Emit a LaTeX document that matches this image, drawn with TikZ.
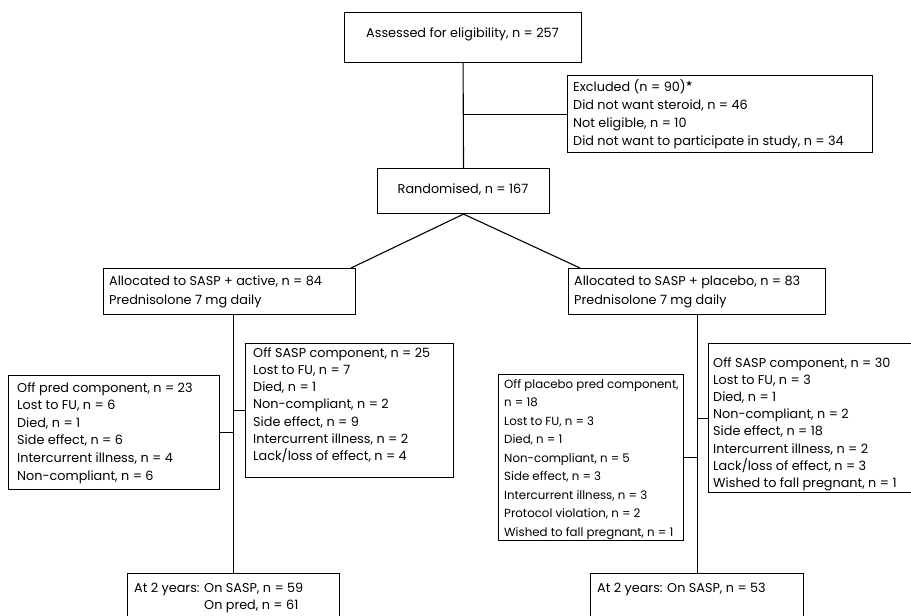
\documentclass[tikz,border=0pt]{standalone}
\usepackage{fontspec}
\setmainfont{Poppins}
\newfontfamily\symfont{DejaVu Sans}
\usetikzlibrary{calc}
\newcommand{\fsz}{12.8}
\newcommand{\txtlines}[2]{{\fontsize{\fsz}{#1}\selectfont\begin{tabular}[t]{@{}l@{}}#2\end{tabular}}}
\newcommand{\txtlinessm}[2]{{\fontsize{11.8}{#1}\selectfont\begin{tabular}[t]{@{}l@{}}#2\end{tabular}}}
\begin{document}
\begin{tikzpicture}[x=1pt,y=-1pt,
  box/.style={draw, line width=1.1pt, anchor=north west, inner sep=0pt},
  txt/.style={anchor=base west, inner sep=0pt},
  ctxt/.style={anchor=base, inner sep=0pt, font=\fontsize{\fsz}{17}\selectfont},
  conn/.style={line width=1.1pt}]
\clip (0,0) rectangle (911,616);
% boxes
\node[box, minimum width=237pt, minimum height=50pt] (top) at (344,12) {};
\node[box, minimum width=305pt, minimum height=77pt] (excl) at (567,75) {};
\node[box, minimum width=172pt, minimum height=45pt] (rand) at (377,168) {};
\node[box, minimum width=252pt, minimum height=46pt] (allocL) at (103,268) {};
\node[box, minimum width=257pt, minimum height=46pt] (allocR) at (568,268) {};
\node[box, minimum width=211pt, minimum height=114pt] (offpredL) at (8,375) {};
\node[box, minimum width=208pt, minimum height=134pt] (offsaspL) at (245,343) {};
\node[box, minimum width=185pt, minimum height=166pt] (offplac) at (498,374) {};
\node[box, minimum width=250pt, minimum height=149pt] (offsaspR) at (708,343) {};
\node[box, minimum width=212pt, minimum height=80pt] (botL) at (127,573) {};
\node[box, minimum width=213pt, minimum height=80pt] (botR) at (590,573) {};
% texts
\node[ctxt] (ttop) at (462.5,37) {Assessed for eligibility, n = 257};
\node[txt] (texcl) at (573,91) {\txtlines{18}{Excluded (n = 90)\textsuperscript{\symfont\footnotesize ★}\\Did not want steroid, n = 46\\Not eligible, n = 10\\Did not want to participate in study, n = 34}};
\node[ctxt] (trand) at (463,193) {Randomised, n = 167};
\node[txt] (tallocL) at (109,285) {\txtlines{19.7}{Allocated to SASP + active, n = 84\\Prednisolone 7 mg daily}};
\node[txt] (tallocR) at (574,285) {\txtlines{19.7}{Allocated to SASP + placebo, n = 83\\Prednisolone 7 mg daily}};
\node[txt] (toffpredL) at (17,392) {\txtlines{17.6}{Off pred component, n = 23\\Lost to FU, n = 6\\Died, n = 1\\Side effect, n = 6\\Intercurrent illness, n = 4\\Non-compliant, n = 6}};
\node[txt] (toffsaspL) at (253,357) {\txtlines{17.3}{Off SASP component, n = 25\\Lost to FU, n = 7\\Died, n = 1\\Non-compliant, n = 2\\Side effect, n = 9\\Intercurrent illness, n = 2\\Lack/loss of effect, n = 4}};
\node[txt] (toffplac) at (504,388) {\txtlinessm{18.5}{Off placebo pred component,\\n = 18\\Lost to FU, n = 3\\Died, n = 1\\Non-compliant, n = 5\\Side effect, n = 3\\Intercurrent illness, n = 3\\Protocol violation, n = 2\\Wished to fall pregnant, n = 1}};
\node[txt] (toffsaspR) at (713,367) {\txtlines{17.2}{Off SASP component, n = 30\\Lost to FU, n = 3\\Died, n = 1\\Non-compliant, n = 2\\Side effect, n = 18\\Intercurrent illness, n = 2\\Lack/loss of effect, n = 3\\Wished to fall pregnant, n = 1}};
\node[txt] (tbotL) at (134,592) {{\fontsize{\fsz}{17}\selectfont\begin{tabular}[t]{@{}l@{ }l@{}}At 2 years: & On SASP, n = 59\\ & On pred, n = 61\end{tabular}}};
\node[txt] (tbotR) at (597,592) {{\fontsize{\fsz}{17}\selectfont At 2 years: On SASP, n = 53}};
% connectors
\draw[conn] (top.south) -- (rand.north);
\draw[conn] (excl.west) -- (excl.west -| top.south);
\draw[conn] (rand.south) -- ($(allocL.north east)+(-5,0)$);
\draw[conn] (rand.south) -- ($(allocR.north west)+(12,0)$);
\draw[conn] (allocL.south -| botL.north) -- (botL.north);
\draw[conn] (offpredL.east) -- (offpredL.east -| botL.north);
\draw[conn] (offsaspL.west) -- (offsaspL.west -| botL.north);
\draw[conn] (allocR.south -| botR.north) -- (botR.north);
\draw[conn] (offplac.east) -- (offplac.east -| botR.north);
\draw[conn] (offsaspR.west) -- (offsaspR.west -| botR.north);
\end{tikzpicture}
\end{document}
